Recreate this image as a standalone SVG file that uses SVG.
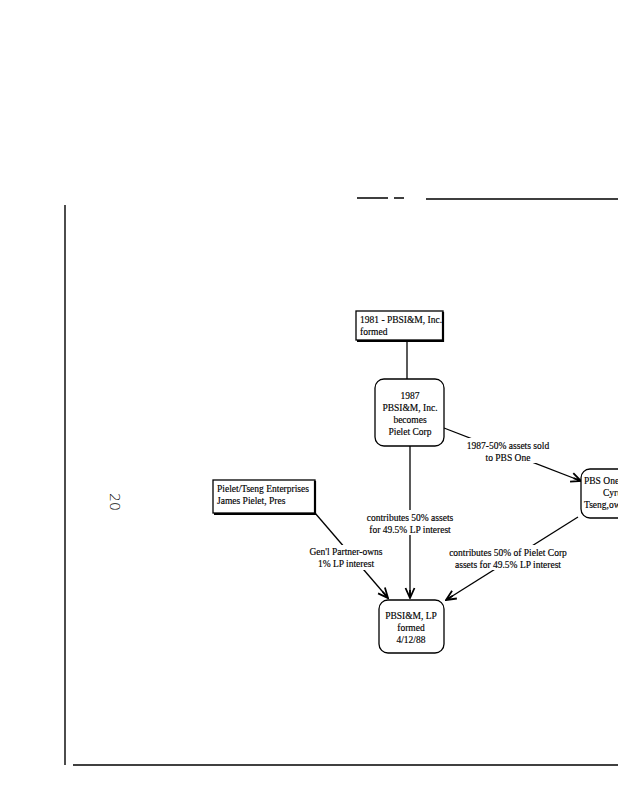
<svg xmlns="http://www.w3.org/2000/svg" width="618" height="800" viewBox="0 0 618 800">
<style>
text{font-family:"Liberation Serif","Times New Roman",serif;font-size:9.5px;fill:#000;stroke:#000;stroke-width:0.15}
.c{text-anchor:middle}
.box{fill:#fff;stroke:#000;stroke-width:1.3}
.shadow{fill:none;stroke:#000;stroke-width:2.2}
.con{stroke:#000;stroke-width:1.3;fill:none}
.lbl{fill:#fff}
.frame{stroke:#000;stroke-width:1.4;fill:none}
</style>
<defs>
<marker id="arr" viewBox="0 0 12 12" refX="11" refY="6" markerWidth="12" markerHeight="12" markerUnits="userSpaceOnUse" orient="auto">
<path d="M1,1.5 L11,6 L1,10.5 M11,6 L3,6" fill="none" stroke="#000" stroke-width="1.8"/>
</marker>
</defs>
<rect width="618" height="800" fill="#fff"/>
<g id="frame">
<path class="frame" d="M65,205 V765"/>
<path class="frame" d="M73,765 H618"/>
<path class="frame" d="M357,198 H388 M394,198 H404 M426,199 H618"/>
<text x="0" y="0" transform="translate(110,493) rotate(90)" style="font-family:'DejaVu Sans',sans-serif;font-size:14px;font-weight:300;stroke:none">20</text>
</g>
<g id="connectors">
<line class="con" x1="407" y1="340" x2="407" y2="379"/>
<line class="con" x1="410" y1="446" x2="410" y2="598" marker-end="url(#arr)"/>
<line class="con" x1="444" y1="428" x2="581" y2="481" marker-end="url(#arr)"/>
<line class="con" x1="578" y1="517" x2="446" y2="600" marker-end="url(#arr)"/>
<line class="con" x1="315" y1="513" x2="388" y2="598" marker-end="url(#arr)"/>
<rect class="lbl" x="367" y="510" width="86" height="25"/>
<text class="c" x="410" y="521">contributes 50% assets</text>
<text class="c" x="410" y="533">for 49.5% LP interest</text>
<rect class="lbl" x="468" y="438" width="80" height="25"/>
<text class="c" x="508" y="449">1987-50% assets sold</text>
<text class="c" x="508" y="461">to PBS One</text>
<rect class="lbl" x="452" y="545" width="114" height="25"/>
<text class="c" x="508" y="556">contributes 50% of Pielet Corp</text>
<text class="c" x="508" y="568">assets for 49.5% LP interest</text>
<rect class="lbl" x="310" y="545" width="74" height="25"/>
<text class="c" x="346" y="555">Gen'l Partner-owns</text>
<text class="c" x="346" y="567">1% LP interest</text>
</g>
<g id="n1981">
<rect class="box" x="356" y="311" width="87" height="29"/>
<path class="shadow" d="M443,312 V341 H357"/>
<text x="360" y="323">1981 - PBSI&amp;M, Inc.</text>
<text x="360" y="335">formed</text>
</g>
<g id="n1987">
<rect class="box" x="375" y="379" width="69" height="67" rx="9"/>
<text class="c" x="410" y="399">1987</text>
<text class="c" x="410" y="411">PBSI&amp;M, Inc.</text>
<text class="c" x="410" y="423">becomes</text>
<text class="c" x="410" y="435">Pielet Corp</text>
</g>
<g id="pielet">
<rect class="box" x="213" y="480" width="102" height="33"/>
<path class="shadow" d="M315,481 V514 H214"/>
<text x="217" y="492">Pielet/Tseng Enterprises</text>
<text x="217" y="504">James Pielet, Pres</text>
</g>
<g id="pbsone">
<rect class="box" x="581" y="469" width="60" height="49" rx="9"/>
<text x="584" y="484">PBS One</text>
<text x="603" y="496">Cyrus</text>
<text x="584" y="508">Tseng,owner</text>
</g>
<g id="lp">
<rect class="box" x="379" y="600" width="65" height="53" rx="9"/>
<text class="c" x="411" y="619">PBSI&amp;M, LP</text>
<text class="c" x="411" y="631">formed</text>
<text class="c" x="411" y="643">4/12/88</text>
</g>
</svg>
